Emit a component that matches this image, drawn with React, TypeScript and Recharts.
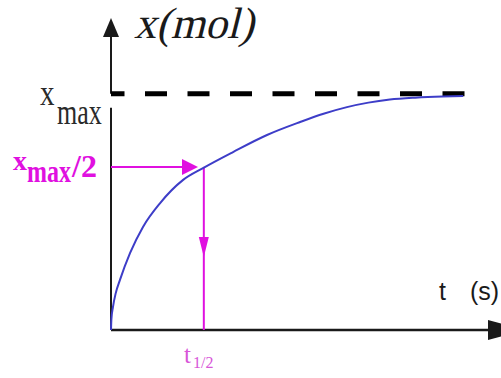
import React from 'react';
import { LineChart, Line, XAxis, YAxis, ReferenceLine, ReferenceDot } from 'recharts';

// curve: amount x (relative to x_max) versus time t
const times = [0, 0.01, 0.05, 0.12, 0.23, 0.49, 0.82, 1.26, 1.85, 2.36, 3.13, 4.0, 4.85, 5.45, 6.05, 6.6, 7.15, 7.8, 8.5, 9.03];
const amounts = [0, 0.045, 0.097, 0.155, 0.212, 0.326, 0.436, 0.537, 0.635, 0.685, 0.753, 0.825, 0.88, 0.915, 0.943, 0.962, 0.975, 0.983, 0.988, 0.99];

const X_MAX = 1;
const HALF = 0.69;
const T_HALF = 2.38;
const T_END = 10;
const Y_TOP = 1.32;
const DASH_END = 9.08;
const H_ARROW_TIP = 2.23;
const V_ARROW_TIP = 0.309;
const AXIS_GAP_LOW = 0.94;

const yTitle = ['x', '(', 'mol', ')'];
const xTitle = ['t', '(s)'];
const maxLabel = ['x', 'max'];
const halfLabel = ['x', 'max', '/2'];
const tHalfLabel = ['t', '1/2'];

const data = times.map((t, i) => ({ t, x: amounts[i] }));

const MAGENTA = '#e010e0';
const INK = '#1a1a1a';
const SERIF = 'Liberation Serif';
const SANS = 'Liberation Sans';

const Labels = () => (
  <svg width={501} height={378} style={{ position: 'absolute', left: 0, top: 0, pointerEvents: 'none' }}>
    <g transform="translate(134,38) skewX(-14)">
      <text x={0} y={0} fontFamily={SERIF} fontSize={44} fill={INK}>
        {yTitle.join('')}
      </text>
    </g>
    <g transform="translate(40,105) scale(1,1.25)">
      <text x={0} y={0} fontFamily={SERIF} fontSize={29} fill="#2a2a2a">{maxLabel[0]}</text>
    </g>
    <g transform="translate(57,124) scale(1,1.35)">
      <text x={0} y={0} fontFamily={SERIF} fontSize={26} fill="#2a2a2a">{maxLabel[1]}</text>
    </g>
    <text x={13} y={170} fontFamily={SERIF} fontWeight="bold" fontSize={28} fill={MAGENTA}>{halfLabel[0]}</text>
    <g transform="translate(27,182) scale(1,1.3)">
      <text x={0} y={0} fontFamily={SERIF} fontWeight="bold" fontSize={24} fill={MAGENTA}>{halfLabel[1]}</text>
    </g>
    <text x={72} y={177} fontFamily={SERIF} fontWeight="bold" fontSize={32} fill={MAGENTA}>{halfLabel[2]}</text>
    <text x={439} y={300} fontFamily={SANS} fontSize={25} fill={INK}>{xTitle[0]}</text>
    <text x={470} y={300} fontFamily={SANS} fontSize={25} fill={INK}>{xTitle[1]}</text>
    <text x={184} y={363} fontFamily={SERIF} fontSize={25} fill="#d855d8">{tHalfLabel[0]}</text>
    <text x={193} y={368} fontFamily={SERIF} fontSize={16} fill="#d855d8">{tHalfLabel[1]}</text>
  </svg>
);

const upArrow = (p: any) => (
  <polygon points={`${p.cx},${p.cy} ${p.cx - 8},${p.cy + 19} ${p.cx + 8},${p.cy + 19}`} fill={INK} />
);
const rightAxisArrow = (p: any) => (
  <polygon points={`${p.cx - 13},${p.cy - 10} ${p.cx + 25},${p.cy} ${p.cx - 13},${p.cy + 10}`} fill={INK} />
);
const rightMagArrow = (p: any) => (
  <polygon points={`${p.cx - 16},${p.cy - 8} ${p.cx},${p.cy} ${p.cx - 16},${p.cy + 8}`} fill={MAGENTA} />
);
const downMagArrow = (p: any) => (
  <polygon points={`${p.cx - 5},${p.cy - 20} ${p.cx + 5},${p.cy - 20} ${p.cx},${p.cy}`} fill={MAGENTA} />
);

export default function App() {
  return (
    <div style={{ position: 'absolute', left: 0, top: 0, width: 501, height: 378, background: '#fff', overflow: 'hidden' }}>
      <LineChart width={501} height={378} data={data} margin={{ top: 18, right: 0, bottom: 48, left: 111 }}>
        <XAxis dataKey="t" type="number" domain={[0, T_END]} hide />
        <YAxis type="number" domain={[0, Y_TOP]} hide />
        <ReferenceLine segment={[{ x: 0, y: 0 }, { x: T_END, y: 0 }]} stroke={INK} strokeWidth={2.5} ifOverflow="visible" />
        <ReferenceLine segment={[{ x: 0, y: 0 }, { x: 0, y: AXIS_GAP_LOW }]} stroke={INK} strokeWidth={2} ifOverflow="visible" />
        <ReferenceLine segment={[{ x: 0, y: X_MAX }, { x: 0, y: Y_TOP - 0.05 }]} stroke={INK} strokeWidth={2} ifOverflow="visible" />
        <ReferenceDot x={0} y={Y_TOP} r={1} shape={upArrow} ifOverflow="visible" />
        <ReferenceDot x={T_END} y={0} r={1} shape={rightAxisArrow} ifOverflow="visible" />
        <ReferenceLine
          segment={[{ x: 0, y: X_MAX }, { x: DASH_END, y: X_MAX }]}
          stroke="#000"
          strokeWidth={5}
          strokeDasharray="22 20.5"
          strokeDashoffset={8.5}
          ifOverflow="visible"
        />
        <ReferenceLine segment={[{ x: 0, y: HALF }, { x: H_ARROW_TIP - 0.2, y: HALF }]} stroke={MAGENTA} strokeWidth={2} ifOverflow="visible" />
        <ReferenceDot x={H_ARROW_TIP} y={HALF} r={1} shape={rightMagArrow} ifOverflow="visible" />
        <ReferenceLine segment={[{ x: T_HALF, y: HALF }, { x: T_HALF, y: 0 }]} stroke={MAGENTA} strokeWidth={2} ifOverflow="visible" />
        <ReferenceDot x={T_HALF} y={V_ARROW_TIP} r={1} shape={downMagArrow} ifOverflow="visible" />
        <Line type="monotone" dataKey="x" stroke="#3d3dc8" strokeWidth={2} dot={false} isAnimationActive={false} />
      </LineChart>
      <Labels />
    </div>
  );
}
